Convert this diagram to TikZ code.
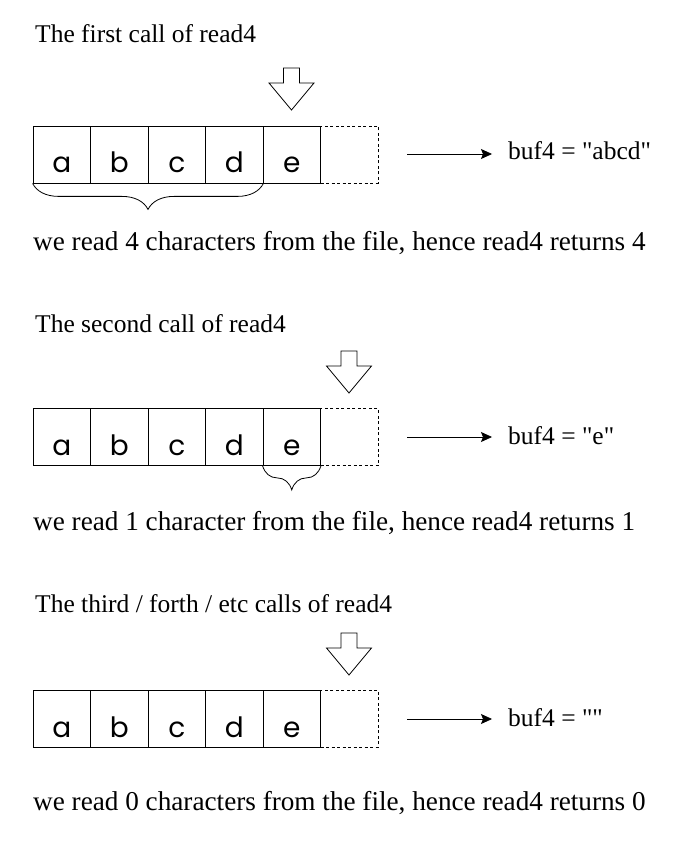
\documentclass[tikz,border=0pt]{standalone}
\usepackage{fontspec}
\setmainfont{Liberation Serif}[Ligatures=TeXOff]
\newfontfamily\cellfont{Poppins}
\usetikzlibrary{arrows.meta,decorations.pathreplacing,positioning}

\tikzset{
  cell/.style={draw, line width=.8pt, minimum width=57.5pt, minimum height=57pt,
    inner sep=0pt, text height=37pt, text depth=0pt,
    font=\cellfont\fontsize{28}{28}\selectfont},
  emptycell/.style={cell, dash pattern=on 3pt off 2.5pt},
  txt/.style={inner sep=0pt, font=\fontsize{27.2}{32}\selectfont},
  bigtxt/.style={inner sep=0pt, font=\fontsize{25.5}{30}\selectfont},
  readarrow/.style={draw, line width=.8pt, fill=white, line join=miter},
  ptr/.style={-{Stealth[length=11pt,width=10pt,inset=2pt]}, line width=.8pt},
  readbrace/.style={decorate, decoration={brace, amplitude=26pt, mirror}, line width=.8pt}
}

\begin{document}
\begin{tikzpicture}[x=1pt, y=-1pt]
\useasboundingbox (0,0) rectangle (684,842);
%\draw[help lines] (0,0) grid[step=50] (684,842);

% the three rows of the file
\foreach \s/\y in {1/154.5, 2/437, 3/718.5}{
  \foreach \c [count=\i] in {a,b,c,d,e}
    \node[cell] (c\s-\i) at ({33+57.5*(\i-.5)},\y) {\c};
  \node[emptycell] (c\s-6) at ({33+57.5*5.5},\y) {};
}

% read4 pointer
\foreach \cx/\ty in {291.5/110, 349/393, 349/675}
  \draw[readarrow] ({\cx-8},{\ty-42}) -- ({\cx+8},{\ty-42}) -- ({\cx+8},{\ty-27})
    -- ({\cx+22.5},{\ty-27}) -- (\cx,\ty) -- ({\cx-22.5},{\ty-27})
    -- ({\cx-8},{\ty-27}) -- cycle;

% first call
\node[bigtxt, anchor=base west] (t1) at (35,43) {The first call of read4};
\node[bigtxt, anchor=base west] (b1) at (508,160) {buf4 = "abcd"};
\coordinate (p1) at (407,154);
\draw[ptr] (p1) -- ([xshift=-16pt]p1 -| b1.west);
\draw[readbrace] (c1-1.south west) -- (c1-4.south east);
\node[txt, anchor=base west] (r1) at (33,250)
  {we read 4 characters from the file, hence read4 returns 4};

% second call
\node[bigtxt, anchor=base west] (t2) at (35,332) {The second call of read4};
\node[bigtxt, anchor=base west] (b2) at (508,444) {buf4 = "e"};
\coordinate (p2) at (407,437);
\draw[ptr] (p2) -- ([xshift=-16pt]p2 -| b2.west);
\draw[readbrace, decoration={amplitude=24pt}] (c2-5.south west) -- (c2-5.south east);
\node[txt, anchor=base west] (r2) at (33,530)
  {we read 1 character from the file, hence read4 returns 1};

% third / forth / etc calls
\node[bigtxt, anchor=base west] (t3) at (35,612) {The third / forth / etc calls of read4};
\node[bigtxt, anchor=base west] (b3) at (508,726) {buf4 = ""};
\coordinate (p3) at (407,719);
\draw[ptr] (p3) -- ([xshift=-16pt]p3 -| b3.west);
\node[txt, anchor=base west] (r3) at (33,810)
  {we read 0 characters from the file, hence read4 returns 0};
\end{tikzpicture}
\end{document}
